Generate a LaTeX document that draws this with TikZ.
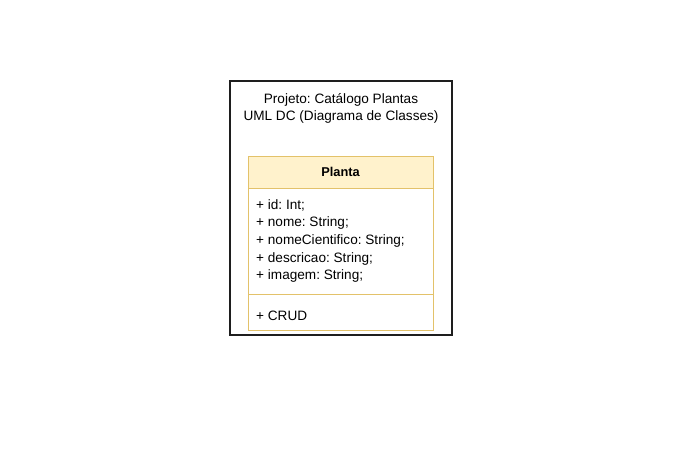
\documentclass[tikz,border=0pt]{standalone}
\usepackage{fontspec}
\setmainfont{Liberation Sans}
\usetikzlibrary{positioning}
\frenchspacing

\definecolor{headfill}{HTML}{FFF2CC}
\definecolor{headline}{HTML}{E3C26A}
\definecolor{framecol}{HTML}{1E1E1E}

\tikzset{
    frame/.style={draw=framecol, line width=2pt, fill=white, minimum width=222pt, minimum height=254pt, inner sep=0pt},
    compart/.style={draw=headline, line width=0.9pt, fill=white, minimum width=185pt, inner sep=0pt, outer sep=0pt},
    classhead/.style={compart, fill=headfill, minimum height=32pt, font=\fontsize{12.8}{14}\selectfont\bfseries},
    classtext/.style={font=\fontsize{13.6}{17.6}\selectfont, align=left, inner sep=0pt}
}

\begin{document}
\begin{tikzpicture}[x=1pt, y=-1pt]
    \useasboundingbox (0,0) rectangle (691,464);

    % Draw frame and title
    \node[frame] (diagram) at (340.5,207.5) {};
    \node[font=\fontsize{13.6}{17}\selectfont, align=center] (title) at (341,108.5)
        {Projeto: Catálogo Plantas\\UML DC (Diagrama de Classes)};

    % Draw class compartments
    \node[classhead] (planta) at (340.5,172) {Planta};
    \node[compart, minimum height=106pt, below=0pt of planta] (attrs) {};
    \node[compart, minimum height=36pt, below=0pt of attrs] (methods) {};

    % Draw members
    \node[classtext, anchor=west] (attrlist) at (256,241)
        {+ id: Int;\\+ nome: String;\\+ nomeCientifico: String;\\+ descricao: String;\\+ imagem: String;};
    \node[classtext, anchor=west] (crud) at (256,316) {+ CRUD};
\end{tikzpicture}
\end{document}
